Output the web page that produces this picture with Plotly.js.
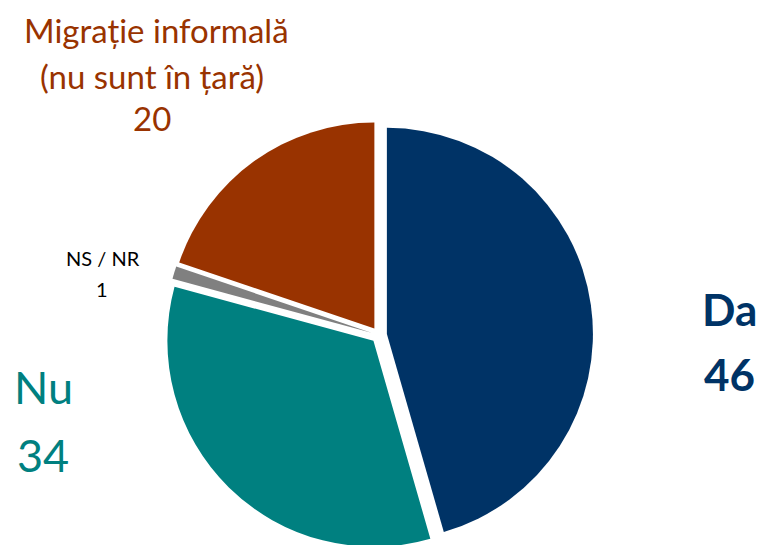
<!DOCTYPE html>
<html>
<head>
<meta charset="utf-8">
<script src="https://cdn.plot.ly/plotly-3.0.1.min.js"></script>
<style>
html,body{margin:0;padding:0;overflow:hidden;background:#fff;}
#chart{width:763px;height:560px;}
</style>
</head>
<body>
<div id="chart"></div>
<script>
// Data
const categories = ["Da", "Nu", "NS / NR", "Migrație informală (nu sunt în țară)"];
const values = [46, 34, 1, 20];
const colors = ["#003366", "#008080", "#808080", "#993300"];

const W = 763, H = 560;
const px = x => x / W;
const py = y => 1 - y / H;

const trace = {
  type: "pie",
  labels: categories,
  values: values,
  sort: false,
  direction: "clockwise",
  rotation: 0,
  pull: [0.0386, 0.0386, 0.0386, 0.0386],
  marker: { colors: colors, line: { width: 0 } },
  textinfo: "none",
  hoverinfo: "label+value",
  showlegend: false,
  domain: { x: [165 / W, 593 / W], y: [1 - 549 / H, 1 - 121 / H] }
};

function ann(text, x, y, size, color, bold) {
  return {
    text: bold ? "<b>" + text + "</b>" : text,
    xref: "paper", yref: "paper",
    x: px(x), y: py(y),
    xanchor: "center", yanchor: "middle",
    showarrow: false,
    font: { family: "Lato, 'Open Sans', sans-serif", size: size, color: color }
  };
}

const annotations = [
  ann("Migrație informală", 156, 30, 33, colors[3], false),
  ann("(nu sunt în țară)", 152, 76, 33, colors[3], false),
  ann(String(values[3]), 152, 118, 33, colors[3], false),
  ann("NS / NR", 103, 258, 20, "#000000", false),
  ann(String(values[2]), 102, 289, 20, "#000000", false),
  ann("Da", 729, 309, 44, colors[0], true),
  ann(String(values[0]), 729, 374, 44, colors[0], true),
  ann("Nu", 43, 387, 45, colors[1], false),
  ann(String(values[1]), 43, 455, 45, colors[1], false)
];

const layout = {
  width: W, height: H,
  margin: { l: 0, r: 0, t: 0, b: 0 },
  paper_bgcolor: "#ffffff",
  plot_bgcolor: "#ffffff",
  showlegend: false,
  annotations: annotations
};

Plotly.newPlot("chart", [trace], layout, { displayModeBar: false, staticPlot: true });
</script>
</body>
</html>
